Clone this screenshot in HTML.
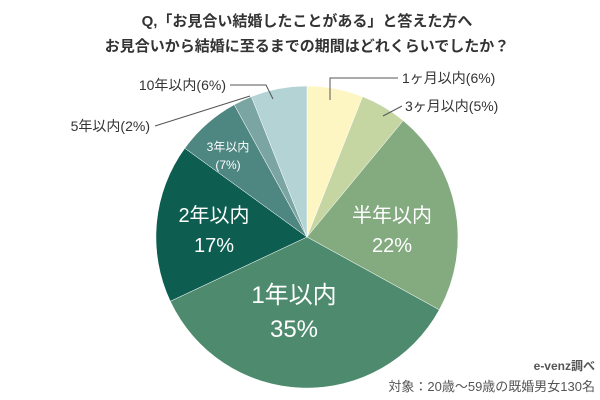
<html><head><style>body{margin:0;background:#fff}</style></head><body>
<svg width="600" height="400" xmlns="http://www.w3.org/2000/svg" font-family="Liberation Sans, Noto Sans CJK JP, sans-serif">
<text x="307" y="26" text-anchor="middle" font-size="15" font-weight="bold" fill="#333">Q,「お見合い結婚したことがある」と答えた方へ</text>
<text x="307" y="51" text-anchor="middle" font-size="15" font-weight="bold" fill="#333">お見合いから結婚に至るまでの期間はどれくらいでしたか？</text>
<g stroke="#fff" stroke-width="0.5">
<path d="M307,237 L307,86 A151,151 0 0 1 362.6,96.6Z" fill="#fdf6c3"/>
<path d="M307,237 L362.6,96.6 A151,151 0 0 1 403.2,120.6Z" fill="#c5d6a2"/>
<path d="M307,237 L403.2,120.6 A151,151 0 0 1 439.3,309.8Z" fill="#84ab80"/>
<path d="M307,237 L439.3,309.8 A151,151 0 0 1 170.3,301.3Z" fill="#4e8a6e"/>
<path d="M307,237 L170.3,301.3 A151,151 0 0 1 184.8,148.2Z" fill="#0d5e50"/>
<path d="M307,237 L184.8,148.2 A151,151 0 0 1 234.2,104.7Z" fill="#4e8682"/>
<path d="M307,237 L234.2,104.7 A151,151 0 0 1 251.4,96.6Z" fill="#7aa5a2"/>
<path d="M307,237 L251.4,96.6 A151,151 0 0 1 307,86Z" fill="#b3d3d4"/>
</g>
<g stroke="#555" stroke-width="1" fill="none">
<polyline points="330,100 330,78 398,78"/>
<polyline points="383,116 402,106"/>
<polyline points="230,85 266,85 273,99"/>
<polyline points="155,126 250,96"/>
</g>
<g font-size="14" fill="#333">
<text x="402" y="83">1ヶ月以内(6%)</text>
<text x="405" y="111">3ヶ月以内(5%)</text>
<text x="226" y="90" text-anchor="end">10年以内(6%)</text>
<text x="150" y="131" text-anchor="end">5年以内(2%)</text>
</g>
<g fill="#fff" text-anchor="middle">
<text x="228" y="151" font-size="12">3年以内</text>
<text x="228" y="169" font-size="12">(7%)</text>
<text x="392" y="222" font-size="20">半年以内</text>
<text x="392" y="252" font-size="20">22%</text>
<text x="294" y="303" font-size="24">1年以内</text>
<text x="294" y="337" font-size="24">35%</text>
<text x="214" y="222" font-size="20">2年以内</text>
<text x="214" y="252" font-size="20">17%</text>
</g>
<text x="595" y="370" text-anchor="end" font-size="12" font-weight="bold" fill="#555">e-venz調べ</text>
<text x="595" y="391" text-anchor="end" font-size="13" fill="#555">対象：20歳〜59歳の既婚男女130名</text>
</svg>
</body></html>
